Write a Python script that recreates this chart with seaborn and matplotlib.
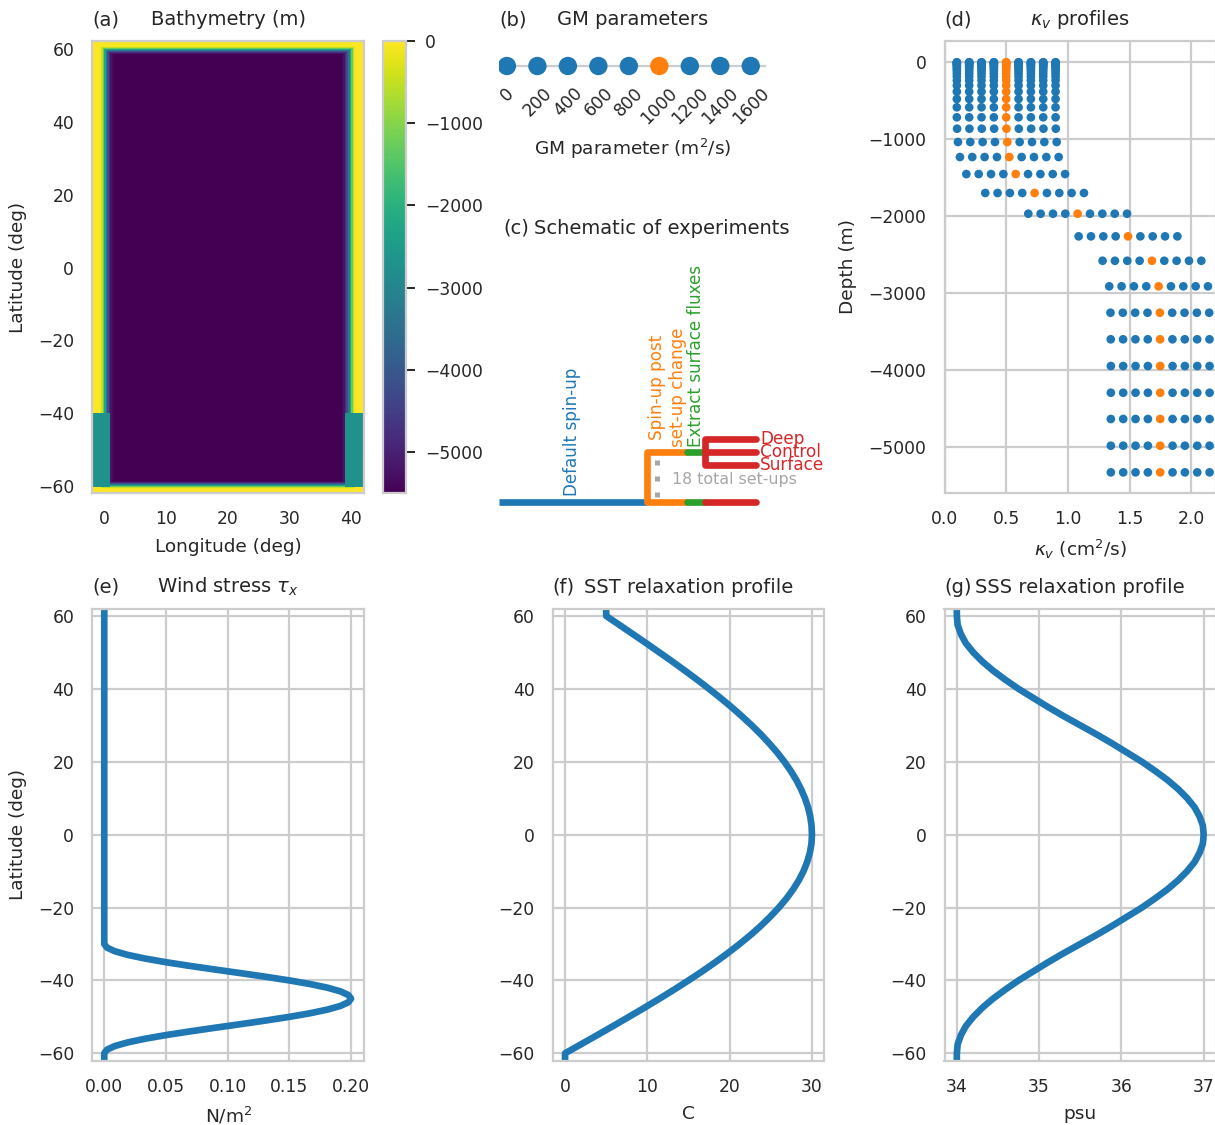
import numpy as np
import pandas as pd
import matplotlib
matplotlib.use('Agg')
import matplotlib.pyplot as plt
import seaborn as sns

W, H = 1215, 1125
BLUE, ORANGE, GREEN, RED = '#1f77b4', '#ff7f0e', '#2ca02c', '#d62728'

# bathymetry: depth by distance from the domain edge, one value per 0.25 deg cell
edge_depth = [0, 0, 0, 0, 0, -100, -500, -1300, -2300, -3300, -4200, -4800, -5200, -5400]
floor_depth = -5500
ridge_depth = -2750
lon_range = (-2, 42)
lat_range = (-62, 62)

# GM parameters
gm_values = [0, 200, 400, 600, 800, 1000, 1200, 1400, 1600]
gm_default = 1000

# kappa_v profiles
depths = [-3, -6, -13, -22, -33, -47, -65, -88, -115, -150, -190, -240, -305, -385, -480,
          -588, -718, -866, -1039, -1234, -1455, -1701, -1970, -2264, -2581, -2913,
          -3256, -3601, -3948, -4295, -4636, -4983, -5329]
kv_shift = [0, 0, 0, 0, 0, 0, 0, 0, 0, 0, 0, 0, 0, 0, 0,
            0, 0, 0.002, 0.009, 0.025, 0.077, 0.23, 0.579, 0.987, 1.181, 1.235,
            1.245, 1.247, 1.248, 1.248, 1.248, 1.248, 1.248]
kv_base = [0.1, 0.2, 0.3, 0.4, 0.5, 0.6, 0.7, 0.8, 0.9]
kv_default = 0.5

# wind stress
wind_lat = [-62, -60, -59, -58, -57, -56, -55, -54, -53, -52, -51, -50, -49, -48, -47, -46, -45,
            -44, -43, -42, -41, -40, -39, -38, -37, -36, -35, -34, -33, -32, -31, -30, 62]
wind_tau = [0, 0, .0022, .0086, .0191, .0331, .05, .0691, .0895, .1105, .1309, .15, .1669, .1809, .1914, .1978, .2,
            .1978, .1914, .1809, .1669, .15, .1309, .1105, .0895, .0691, .05, .0331, .0191, .0086, .0022, 0, 0]

# relaxation profiles
relax_lat = [-62, -60, -57.5, -55, -52.5, -50, -47.5, -45, -42.5, -40, -37.5, -35, -32.5, -30, -27.5, -25,
             -22.5, -20, -17.5, -15, -12.5, -10, -7.5, -5, -2.5, 0, 2.5, 5, 7.5, 10, 12.5, 15, 17.5, 20,
             22.5, 25, 27.5, 30, 32.5, 35, 37.5, 40, 42.5, 45, 47.5, 50, 52.5, 55, 57.5, 60, 62]
sst = [0, 0, 1.96, 3.92, 5.85, 7.76, 9.64, 11.48, 13.27, 15, 16.67, 18.26, 19.78, 21.21, 22.56, 23.80,
       24.94, 25.98, 26.91, 27.72, 28.41, 28.98, 29.42, 29.74, 29.94, 30, 29.95, 29.79, 29.52, 29.15, 28.67, 28.10, 27.42, 26.65,
       25.79, 24.83, 23.80, 22.68, 21.48, 20.22, 18.89, 17.5, 16.06, 14.57, 13.04, 11.47, 9.88, 8.26, 6.64, 5, 5]
sss = [34, 34, 34.01, 34.05, 34.11, 34.20, 34.31, 34.44, 34.59, 34.75, 34.93, 35.11, 35.30, 35.50, 35.70, 35.89,
       36.07, 36.25, 36.41, 36.56, 36.69, 36.80, 36.89, 36.95, 36.99, 37, 36.99, 36.95, 36.89, 36.80, 36.69, 36.56, 36.41, 36.25,
       36.07, 35.89, 35.70, 35.50, 35.30, 35.11, 34.93, 34.75, 34.59, 34.44, 34.31, 34.20, 34.11, 34.05, 34.01, 34, 34]

# experiment schematic, time on a 0-100 scale
spinup_t, spinup_y = [0, 55.2], [0, 0]
post_t, post_y = [70.2, 55.2, 55.2, 70.2], [1, 1, 0, 0]
extract_upper_t, extract_lower_t = [70.2, 77], [70.2, 77]
upper_level, lower_level = [1, 1], [0, 0]
fork_t, fork_y = [96.4, 77, 77, 96.4], [1.26, 1.26, 0.74, 0.74]
control_t, control_y = [77, 96.4], [1, 1]
final_t, final_y = [77, 96.4], [0, 0]
setup_t, setup_y = [59.2, 59.2], [0.84, 0.09]
run_labels = ['Deep', 'Control', 'Surface']
run_levels = [1.26, 1, 0.74]


def make_axes(fig, left, top, right, bottom):
    return fig.add_axes([left / W, 1 - bottom / H, (right - left) / W, (bottom - top) / H])


def add_titles(ax, letter, title):
    ax.set_title(letter, loc='left', pad=TITLE_PAD, fontsize=TITLE_SIZE)
    ax.set_title(title, loc='center', pad=TITLE_PAD, fontsize=TITLE_SIZE)


def bathymetry_field():
    lon = np.arange(lon_range[0], lon_range[1] + 0.01, 0.25)
    lat = np.arange(lat_range[0], lat_range[1] + 0.01, 0.25)
    lon_mid = (lon[:-1] + lon[1:]) / 2
    lat_mid = (lat[:-1] + lat[1:]) / 2
    ramp = np.array(edge_depth + [floor_depth])
    ix = np.minimum(np.arange(lon_mid.size), np.arange(lon_mid.size)[::-1])
    iy = np.minimum(np.arange(lat_mid.size), np.arange(lat_mid.size)[::-1])
    field = np.maximum(ramp[np.minimum(ix, ramp.size - 1)][None, :],
                       ramp[np.minimum(iy, ramp.size - 1)][:, None])
    # ridge across the channel at the southern end
    in_lat = (lat_mid > -60.25) & (lat_mid < -40)
    in_lon = (lon_mid < 1.08) | (lon_mid > 39.0)
    field[np.ix_(in_lat, in_lon)] = ridge_depth
    return lon, lat, field


def plot_bathymetry(fig):
    ax = make_axes(fig, 92.3, 41, 364, 493)
    cax = make_axes(fig, 383, 41, 406, 493)
    lon, lat, field = bathymetry_field()
    mesh = ax.pcolormesh(lon, lat, field, cmap='viridis', vmin=floor_depth, vmax=0,
                         shading='flat', rasterized=True)
    cb = fig.colorbar(mesh, cax=cax)
    cb.set_ticks([0, -1000, -2000, -3000, -4000, -5000])
    cax.grid(False)
    cax.tick_params(right=True, length=6.5, width=1.4, color='.15', pad=7)
    ax.set_xlim(-1.94, 42.1)
    ax.set_ylim(-61.9, 62.2)
    ax.set_xticks([0, 10, 20, 30, 40])
    ax.set_yticks(LAT_TICKS)
    ax.set_xlabel('Longitude (deg)', labelpad=XLABEL_PAD)
    ax.set_ylabel('Latitude (deg)')
    add_titles(ax, '(a)', 'Bathymetry (m)')


def plot_gm(fig):
    ax = make_axes(fig, 499.3, 55, 766, 77)
    gm = pd.DataFrame({'gm': gm_values, 'y': [0] * len(gm_values)})
    gm['kind'] = np.where(gm['gm'] == gm_default, 'default', 'other')
    sns.scatterplot(data=gm, x='gm', y='y', hue='kind', palette={'default': ORANGE, 'other': BLUE},
                    s=175, linewidth=0, legend=False, ax=ax, zorder=3)
    ax.set_xlim(-50, 1700)
    ax.set_ylim(-1, 1)
    ax.set_xticks(gm_values)
    ax.set_yticks([0])
    ax.set_yticklabels([])
    ax.grid(False, axis='x')
    ax.tick_params(axis='x', rotation=45, pad=5)
    sns.despine(ax=ax, left=True, bottom=True)
    ax.set_xlabel('GM parameter (m$^2$/s)', labelpad=7)
    ax.set_ylabel('')
    ax.set_title('(b)', loc='left', pad=TITLE_PAD + 10, fontsize=TITLE_SIZE)
    ax.set_title('GM parameters', loc='center', pad=TITLE_PAD + 10, fontsize=TITLE_SIZE)


def draw_path(ax, t, y, color, **kws):
    sns.lineplot(x=t, y=y, color=color, sort=False, estimator=None, linewidth=4.8, ax=ax, **kws)


def plot_schematic(fig):
    ax = make_axes(fig, 499.3, 250, 766, 535)
    ax.set_xlim(0, 100)
    ax.set_ylim(-0.674, 5.095)
    sns.despine(ax=ax, left=True, bottom=True)
    ax.grid(False)
    ax.set_xticks([])
    ax.set_yticks([])
    draw_path(ax, spinup_t, spinup_y, BLUE, solid_capstyle='butt')
    draw_path(ax, post_t, post_y, ORANGE)
    draw_path(ax, extract_upper_t, upper_level, GREEN)
    draw_path(ax, extract_lower_t, lower_level, GREEN)
    draw_path(ax, fork_t, fork_y, RED)
    draw_path(ax, control_t, control_y, RED)
    draw_path(ax, final_t, final_y, RED)
    ax.plot(setup_t, setup_y, color='#a6a6a6', lw=3.6, ls=(0, (1, 2.2)), dash_capstyle='butt')
    ax.text(27.4, 0.115, 'Default spin-up', color=BLUE, rotation=90, ha='center', va='bottom', fontsize=12.1)
    ax.text(63.1, 1.107, 'Spin-up post\nset-up change', color=ORANGE, rotation=90, ha='center', va='bottom',
            multialignment='center', fontsize=12.1)
    ax.text(73.6, 1.107, 'Extract surface fluxes', color=GREEN, rotation=90, ha='center', va='bottom', fontsize=12.1)
    for name, level in zip(run_labels, run_levels):
        ax.text(97.8, level, name, color=RED, ha='left', va='center', fontsize=12.2)
    ax.text(64.9, 0.45, '18 total set-ups', color='#a6a6a6', ha='left', va='center', fontsize=11.4)
    ax.set_xlabel('Time', labelpad=10)
    fig.text(503 / W, 1 - 228 / H, '(c)', ha='left', va='center', fontsize=TITLE_SIZE, color='.15')
    fig.text(661.5 / W, 1 - 228 / H, 'Schematic of experiments', ha='center', va='center', fontsize=TITLE_SIZE, color='.15')


def plot_kappa(fig):
    ax = make_axes(fig, 944.5, 41, 1216, 493)
    rows = []
    for base in kv_base:
        for depth, shift in zip(depths, kv_shift):
            rows.append({'kv': base + shift, 'depth': depth,
                         'kind': 'default' if base == kv_default else 'other'})
    profiles = pd.DataFrame(rows)
    profiles = profiles.sort_values('kind', ascending=False)
    sns.scatterplot(data=profiles, x='kv', y='depth', hue='kind', hue_order=['other', 'default'],
                    palette={'default': ORANGE, 'other': BLUE}, s=39, linewidth=0,
                    legend=False, ax=ax, zorder=3)
    ax.set_xlim(0, 2.2)
    ax.set_ylim(-5597, 273)
    ax.set_xticks([0, 0.5, 1.0, 1.5, 2.0])
    ax.set_yticks([0, -1000, -2000, -3000, -4000, -5000])
    ax.set_xlabel('$\\kappa_v$ (cm$^2$/s)', labelpad=XLABEL_PAD)
    ax.set_ylabel('Depth (m)')
    add_titles(ax, '(d)', '$\\kappa_v$ profiles')


def plot_profile(fig, box, xvals, yvals, xlim, xticks, xlabel, letter, title, ylabel=None):
    ax = make_axes(fig, *box)
    sns.lineplot(x=xvals, y=yvals, orient='y', color=BLUE, sort=False, estimator=None, linewidth=4.8, ax=ax)
    ax.set_xlim(*xlim)
    ax.set_ylim(-62, 62)
    ax.set_xticks(xticks)
    ax.set_yticks(LAT_TICKS)
    ax.set_xlabel(xlabel, labelpad=XLABEL_PAD)
    ax.set_ylabel(ylabel if ylabel else '')
    add_titles(ax, letter, title)
    return ax


LAT_TICKS = [-60, -40, -20, 0, 20, 40, 60]
TITLE_SIZE = 14
TITLE_PAD = 11.5
XLABEL_PAD = 6.8


def main():
    sns.set_theme(style='whitegrid', context='notebook', rc={
        'axes.linewidth': 1.6, 'grid.linewidth': 1.6,
        'xtick.labelsize': 12.3, 'ytick.labelsize': 12.3,
        'axes.labelsize': 13.3, 'axes.labelpad': 8,
        'xtick.major.pad': 12.5, 'ytick.major.pad': 13,
        'xtick.major.size': 0, 'ytick.major.size': 0,
    })
    plt.rcParams['font.family'] = ['DejaVu Sans']
    fig = plt.figure(figsize=(W / 100, H / 100), dpi=100)

    plot_bathymetry(fig)
    plot_gm(fig)
    plot_schematic(fig)
    plot_kappa(fig)

    plot_profile(fig, (92.3, 608.7, 364, 1060.6), wind_tau, wind_lat, (-0.0097, 0.2105),
                 [0, 0.05, 0.10, 0.15, 0.20], 'N/m$^2$', '(e)', 'Wind stress $\\tau_x$', 'Latitude (deg)')
    plot_profile(fig, (552.7, 608.7, 824.3, 1060.6), sst, relax_lat, (-1.5, 31.5),
                 [0, 10, 20, 30], 'C', '(f)', 'SST relaxation profile')
    plot_profile(fig, (944.5, 608.7, 1216, 1060.6), sss, relax_lat, (33.85, 37.15),
                 [34, 35, 36, 37], 'psu', '(g)', 'SSS relaxation profile')

    fig.savefig('out.png', dpi=100)


if __name__ == "__main__":
    main()
